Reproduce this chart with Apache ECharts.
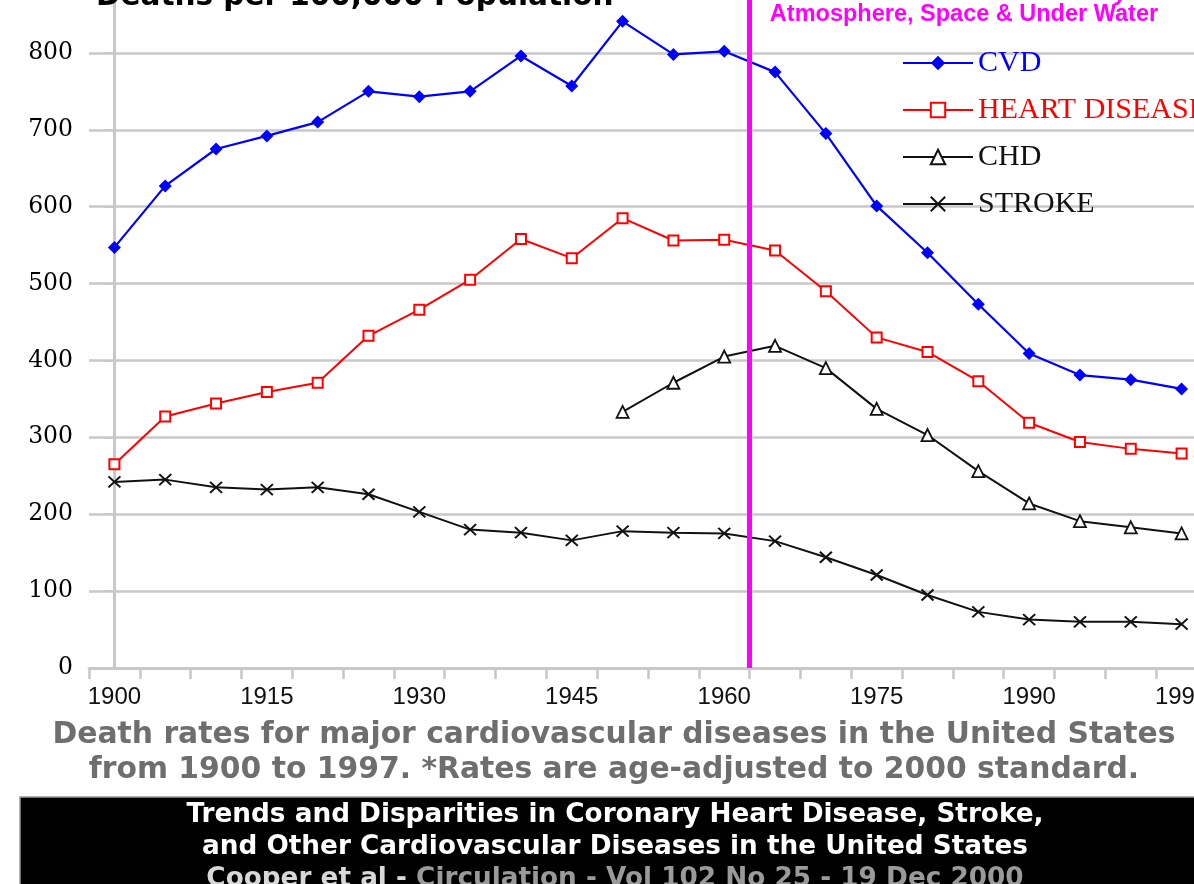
<!DOCTYPE html>
<html>
<head>
<meta charset="utf-8">
<title>CVD death rates 1900-1997</title>
<script src="https://cdn.jsdelivr.net/npm/echarts@6/dist/echarts.min.js"></script>
<style>
  html, body { margin: 0; padding: 0; background: #fff; }
  #main { width: 1194px; height: 884px; }
</style>
</head>
<body>
<div id="main"></div>
<script>
// categories (5-year steps, last ones closing at 1997)
var years = ['1900', '1905', '1910', '1915', '1920', '1925', '1930', '1935', '1940', '1945',
             '1950', '1955', '1960', '1965', '1970', '1975', '1980', '1985', '1990',
             '1993', '1995', '1997'];

// deaths per 100,000 population
var cvd    = [547, 627, 675, 692, 710, 750, 743, 750, 796, 757, 841, 798, 802, 775, 695, 601, 540, 473, 409, 381, 375, 363];
var heart  = [265, 327, 344, 359, 371, 432, 466, 505, 558, 533, 585, 556, 557, 543, 490, 430, 411, 373, 319, 294, 285, 279];
var chd    = [null, null, null, null, null, null, null, null, null, null,
              333, 371, 405, 419, 390, 337, 303, 256, 214, 191, 183, 175];
var stroke = [242, 245, 235, 232, 235, 226, 203, 180, 176, 166, 178, 176, 175, 165, 144, 121, 95, 73, 63, 60, 60, 57];

var yTicks = { min: 0, max: 900, step: 100 };
// 1963 test ban treaty, drawn on the tick between 1960 and 1965
var treatyPos = 12.5;

var myChart = echarts.init(document.getElementById('main'));

var grey = '#c8c8c8';
var xPath = 'path://M0,0 L10,10 M10,0 L0,10';

var option = {
    animation: false,
    backgroundColor: '#fff',
    grid: {
        left: 89,
        right: -13,
        top: -24,
        bottom: 216,
        outerBoundsMode: 'none',
        containLabel: false
    },
    legend: {
        orient: 'vertical',
        left: 897,
        top: 43,
        itemWidth: 70,
        itemHeight: 18,
        itemGap: 17,
        selectedMode: false,
        textStyle: { fontFamily: 'Liberation Serif', fontSize: 30, color: '#111' },
        data: [
            { name: 'CVD', textStyle: { color: '#0000ff' } },
            { name: 'HEART DISEASE', textStyle: { color: '#ff0000' } },
            { name: 'CHD', textStyle: { color: '#111' } },
            { name: 'STROKE', textStyle: { color: '#111' } }
        ]
    },
    xAxis: [{
        type: 'category',
        data: years,
        boundaryGap: true,
        axisLine: { show: true, lineStyle: { color: grey, width: 3 } },
        axisTick: { show: true, interval: 0, length: 11, lineStyle: { color: grey, width: 2.5 } },
        axisLabel: {
            interval: 2,
            margin: 17,
            color: '#111',
            fontFamily: 'Liberation Sans',
            fontSize: 24
        },
        splitLine: { show: false }
    }, {
        // hidden helper axis so the treaty line can sit between two categories
        type: 'value',
        min: -0.5,
        max: years.length - 0.5,
        show: false
    }],
    yAxis: {
        type: 'value',
        min: yTicks.min,
        max: yTicks.max,
        interval: yTicks.step,
        axisLine: { show: true, lineStyle: { color: grey, width: 3 } },
        axisTick: { show: true, length: 10, lineStyle: { color: grey, width: 2 } },
        axisLabel: {
            margin: 16,
            color: '#000',
            fontFamily: 'DejaVu Serif',
            fontSize: 23.5,
            showMaxLabel: false
        },
        splitLine: { show: true, lineStyle: { color: grey, width: 2.5 } }
    },
    series: [
        {
            name: 'CVD',
            type: 'line',
            data: cvd,
            symbol: 'diamond',
            symbolSize: 13,
            lineStyle: { color: '#0000ff', width: 2.2 },
            itemStyle: { color: '#0000ff' },
            z: 4
        },
        {
            name: 'HEART DISEASE',
            type: 'line',
            data: heart,
            symbol: 'rect',
            symbolSize: 10,
            lineStyle: { color: '#ff0000', width: 2 },
            itemStyle: { color: '#fff', borderColor: '#ff0000', borderWidth: 2 },
            z: 4
        },
        {
            name: 'CHD',
            type: 'line',
            data: chd,
            symbol: 'triangle',
            symbolSize: 12,
            lineStyle: { color: '#111', width: 2 },
            itemStyle: { color: '#fff', borderColor: '#111', borderWidth: 1.8 },
            z: 4
        },
        {
            name: 'STROKE',
            type: 'line',
            data: stroke,
            symbol: xPath,
            symbolSize: [12, 11],
            lineStyle: { color: '#111', width: 2 },
            itemStyle: { color: '#111', borderColor: '#111', borderWidth: 2 },
            z: 4
        },
        {
            name: 'treaty',
            type: 'line',
            xAxisIndex: 1,
            data: [],
            z: 6,
            markLine: {
                silent: true,
                symbol: ['none', 'none'],
                label: { show: false },
                lineStyle: { color: '#ff00ff', width: 5, type: 'solid' },
                data: [{ xAxis: treatyPos }]
            }
        }
    ],
    graphic: [
        {
            type: 'text', x: 96, y: -3, z: 20,
            style: {
                text: 'Deaths per 100,000 Population',
                fill: '#000',
                fontFamily: 'DejaVu Sans', fontWeight: 'bold', fontSize: 29.5,
                align: 'left', textAlign: 'left',
                verticalAlign: 'middle', textVerticalAlign: 'middle'
            }
        },
        {
            type: 'text', x: 964, y: -6, z: 20,
            style: {
                text: '1963 Nuclear Test Ban Treaty',
                fill: '#ff00ff',
                fontFamily: 'Liberation Sans', fontWeight: 'bold', fontSize: 23.5,
                align: 'center', textAlign: 'center',
                verticalAlign: 'middle', textVerticalAlign: 'middle'
            }
        },
        {
            type: 'text', x: 964, y: 15, z: 20,
            style: {
                text: 'Atmosphere, Space & Under Water',
                fill: '#ff00ff',
                fontFamily: 'Liberation Sans', fontWeight: 'bold', fontSize: 23.5,
                align: 'center', textAlign: 'center',
                verticalAlign: 'middle', textVerticalAlign: 'middle'
            }
        },
        {
            type: 'text', x: 614, y: 735, z: 20,
            style: {
                text: 'Death rates for major cardiovascular diseases in the United States',
                fill: '#6e6e6e',
                fontFamily: 'DejaVu Sans', fontWeight: 'bold', fontSize: 29.8,
                align: 'center', textAlign: 'center',
                verticalAlign: 'middle', textVerticalAlign: 'middle'
            }
        },
        {
            type: 'text', x: 614, y: 770.5, z: 20,
            style: {
                text: 'from 1900 to 1997. *Rates are age-adjusted to 2000 standard.',
                fill: '#6e6e6e',
                fontFamily: 'DejaVu Sans', fontWeight: 'bold', fontSize: 29.8,
                align: 'center', textAlign: 'center',
                verticalAlign: 'middle', textVerticalAlign: 'middle'
            }
        },
        {
            type: 'rect', z: 18,
            shape: { x: 20, y: 797, width: 1190, height: 100 },
            style: { fill: '#000', stroke: '#999', lineWidth: 1.5 }
        },
        {
            type: 'text', x: 615, y: 815, z: 20,
            style: {
                text: 'Trends and Disparities in Coronary Heart Disease, Stroke,',
                fill: '#fff',
                fontFamily: 'DejaVu Sans', fontWeight: 'bold', fontSize: 26.3,
                align: 'center', textAlign: 'center',
                verticalAlign: 'middle', textVerticalAlign: 'middle'
            }
        },
        {
            type: 'text', x: 615, y: 847.5, z: 20,
            style: {
                text: 'and Other Cardiovascular Diseases in the United States',
                fill: '#fff',
                fontFamily: 'DejaVu Sans', fontWeight: 'bold', fontSize: 26.3,
                align: 'center', textAlign: 'center',
                verticalAlign: 'middle', textVerticalAlign: 'middle'
            }
        },
        {
            type: 'text', x: 615, y: 879, z: 20,
            style: {
                text: '{a|Cooper et al - }{b|Circulation - Vol 102 No 25 - 19 Dec 2000}',
                fill: '#ddd',
                fontFamily: 'DejaVu Sans', fontWeight: 'bold', fontSize: 26.3,
                align: 'center', textAlign: 'center',
                verticalAlign: 'middle', textVerticalAlign: 'middle',
                rich: {
                    a: { fill: '#d8d8d8', fontFamily: 'DejaVu Sans', fontWeight: 'bold', fontSize: 26.3 },
                    b: { fill: '#9a9a9a', fontFamily: 'DejaVu Sans', fontWeight: 'bold', fontSize: 26.3 }
                }
            }
        }
    ]
};

myChart.setOption(option);
window.onresize = myChart.resize;
</script>
</body>
</html>
